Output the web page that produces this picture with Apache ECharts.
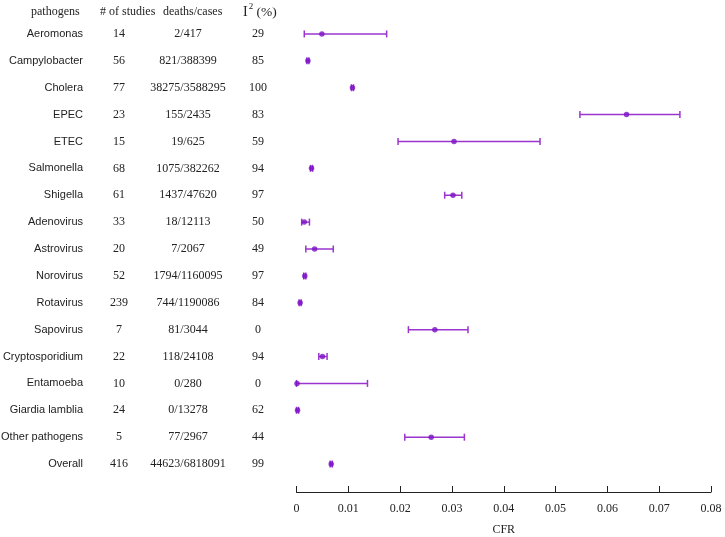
<!DOCTYPE html>
<html>
<head>
<meta charset="utf-8">
<script src="https://cdn.jsdelivr.net/npm/echarts@6/dist/echarts.min.js"></script>
<style>html,body{margin:0;padding:0;background:#fff;overflow:hidden}#c{width:725px;height:537px}</style>
</head>
<body>
<div id="c"></div>
<script>
const pathogens = ['Aeromonas','Campylobacter','Cholera','EPEC','ETEC','Salmonella','Shigella','Adenovirus','Astrovirus','Norovirus','Rotavirus','Sapovirus','Cryptosporidium','Entamoeba','Giardia lamblia','Other pathogens','Overall'];
const studies = [14,56,77,23,15,68,61,33,20,52,239,7,22,10,24,5,416];
const deathsCases = ['2/417','821/388399','38275/3588295','155/2435','19/625','1075/382262','1437/47620','18/12113','7/2067','1794/1160095','744/1190086','81/3044','118/24108','0/280','0/13278','77/2967','44623/6818091'];
const i2 = [29,85,100,83,59,94,97,50,49,97,84,0,94,0,62,44,99];
const cfr =   [0.0049,0.0022,0.0108,0.0637,0.0304,0.0029,0.0302,0.0015,0.0035,0.0016,0.0007,0.0267,0.0050,0.0001,0.0002,0.0260,0.0067];
const lower = [0.0015,0.0020,0.0106,0.0547,0.0196,0.0027,0.0286,0.0010,0.0018,0.0014,0.0005,0.0216,0.0043,0.0000,0.0000,0.0209,0.0065];
const upper = [0.0174,0.0024,0.0110,0.0740,0.0470,0.0031,0.0319,0.0025,0.0071,0.0018,0.0009,0.0331,0.0059,0.0137,0.0004,0.0324,0.0069];
const xTicks = [0,0.01,0.02,0.03,0.04,0.05,0.06,0.07,0.08];

const lineColor = '#9a35cf';
const pointColor = '#7a12c4';
const serif = '"Liberation Serif", "DejaVu Serif", serif';
const sans = '"Liberation Sans", Arial, sans-serif';
const textColor = '#222';

const chart = echarts.init(document.getElementById('c'));
const rowMap = {};
pathogens.forEach((p,i)=>rowMap[p]=i);

const gridLeft = 296.5;

chart.setOption({
  animation: false,
  backgroundColor: '#fff',
  grid: {left: gridLeft, width: 414.5, top: 20.5, height: 457, containLabel: false, outerBoundsMode: 'none'},
  xAxis: {
    type: 'value', min: 0, max: 0.08, interval: 0.01,
    offset: 14.5,
    name: 'CFR', nameLocation: 'middle', nameGap: 32,
    nameTextStyle: {fontFamily: serif, fontSize: 12, color: textColor},
    axisLine: {show: true, lineStyle: {color: textColor, width: 1}},
    axisTick: {show: true, inside: true, length: 6, lineStyle: {color: textColor}},
    axisLabel: {fontFamily: serif, fontSize: 12, color: textColor, margin: 11,
      formatter: v => { const t = xTicks.find(x => Math.abs(x - v) < 1e-9); return t === undefined ? '' : String(t); }},
    splitLine: {show: false}
  },
  yAxis: [
    {
      type: 'category', data: pathogens, inverse: true,
      axisLine: {show: false}, axisTick: {show: false}, splitLine: {show: false},
      axisLabel: {
        margin: gridLeft - 83,
        fontFamily: sans, fontSize: 11, color: textColor
      }
    },
    {
      type: 'category', data: pathogens, inverse: true, position: 'left',
      axisLine: {show: false}, axisTick: {show: false}, splitLine: {show: false},
      axisLabel: {
        margin: 1.5,
        formatter: (v) => {
          const i = rowMap[v];
          return '{b|' + studies[i] + '}{c|' + deathsCases[i] + '}{d|' + i2[i] + '}';
        },
        rich: {
          b: {width: 72, align: 'center', fontFamily: serif, fontSize: 12, color: textColor},
          c: {width: 66, align: 'center', fontFamily: serif, fontSize: 12, color: textColor},
          d: {width: 74, align: 'center', fontFamily: serif, fontSize: 12, color: textColor}
        }
      }
    }
  ],
  graphic: [
    {type: 'text', left: 31, top: 6, style: {text: 'pathogens', font: '12px ' + serif, fill: textColor}},
    {type: 'text', left: 100, top: 6, style: {text: '# of studies', font: '12px ' + serif, fill: textColor}},
    {type: 'text', left: 163, top: 6, style: {text: 'deaths/cases', font: '12px ' + serif, fill: textColor}},
    {type: 'text', left: 243, top: 2, style: {
      text: '{i|I}{s|2}{p| (%)}',
      rich: {
        i: {fontFamily: serif, fontSize: 14, fill: textColor, verticalAlign: 'bottom'},
        s: {fontFamily: serif, fontSize: 9, fill: textColor, padding: [0,0,8,1], verticalAlign: 'bottom'},
        p: {fontFamily: serif, fontSize: 13.5, fill: textColor, verticalAlign: 'bottom'}
      }
    }}
  ],
  series: [
    {
      type: 'custom',
      data: pathogens.map((p,i) => [lower[i], upper[i], i]),
      encode: {x: [0,1], y: 2},
      renderItem: (params, api) => {
        const a = api.coord([api.value(0), api.value(2)]);
        const b = api.coord([api.value(1), api.value(2)]);
        const h = 3.5;
        const st = {stroke: lineColor, lineWidth: 1.5};
        return {type: 'group', children: [
          {type: 'line', shape: {x1: a[0], y1: a[1], x2: b[0], y2: b[1]}, style: st},
          {type: 'line', shape: {x1: a[0], y1: a[1]-h, x2: a[0], y2: a[1]+h}, style: st},
          {type: 'line', shape: {x1: b[0], y1: b[1]-h, x2: b[0], y2: b[1]+h}, style: st}
        ]};
      },
      z: 2
    },
    {
      type: 'scatter',
      data: pathogens.map((p,i) => [cfr[i], i]),
      symbol: 'circle', symbolSize: 5.5,
      itemStyle: {color: pointColor},
      z: 3
    }
  ]
});
</script>
</body>
</html>
